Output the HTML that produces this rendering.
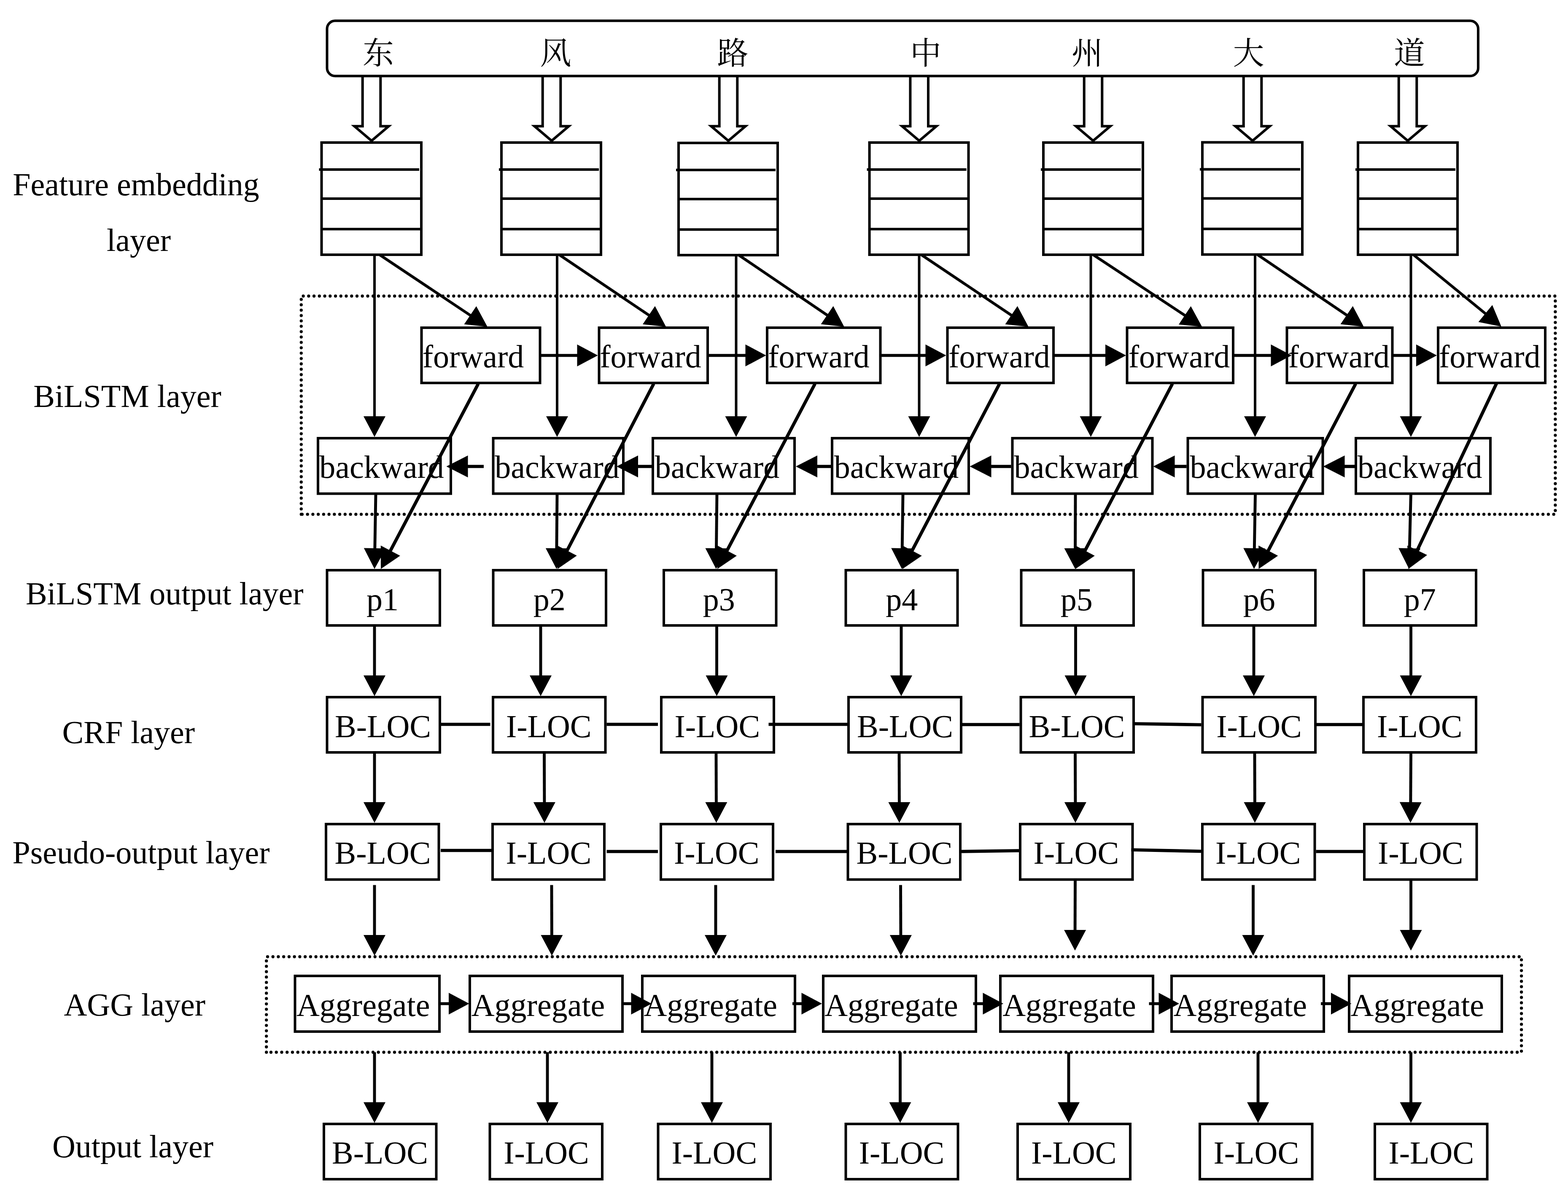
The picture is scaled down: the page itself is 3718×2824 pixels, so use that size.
<!DOCTYPE html>
<html><head><meta charset="utf-8"><title>BiLSTM-CRF-AGG model diagram</title>
<style>
html,body{margin:0;padding:0;background:#fff;}
body{width:3718px;height:2824px;overflow:hidden;font-family:"Liberation Serif",serif;}
svg{display:block;}
svg .h{fill:#000;stroke:none;}
svg text{white-space:pre;}
</style></head><body>
<svg width="3718" height="2824" viewBox="0 0 3718 2824">
<rect width="100%" height="100%" fill="#fff"/>
<g fill="none" stroke="#000" stroke-width="6.0" stroke-linecap="butt" stroke-linejoin="miter">
<rect x="775.5" y="49.2" width="2729.5" height="131.10000000000002" rx="19" ry="19"/>
<path d="M859.7 181L859.7 299.2L840.3 299.2L881 333.8L921.7 299.2L902.3 299.2L902.3 181"/>
<path d="M1286.7 181L1286.7 299.2L1267.3 299.2L1308 333.8L1348.7 299.2L1329.3 299.2L1329.3 181"/>
<path d="M1705.7 181L1705.7 299.2L1686.3 299.2L1727 333.8L1767.7 299.2L1748.3 299.2L1748.3 181"/>
<path d="M2158.3999999999996 181L2158.3999999999996 299.2L2139.0 299.2L2179.7 333.8L2220.3999999999996 299.2L2201.0 299.2L2201.0 181"/>
<path d="M2570.7 181L2570.7 299.2L2551.3 299.2L2592 333.8L2632.7 299.2L2613.3 299.2L2613.3 181"/>
<path d="M2948.7 181L2948.7 299.2L2929.3 299.2L2970 333.8L3010.7 299.2L2991.3 299.2L2991.3 181"/>
<path d="M3316.7 181L3316.7 299.2L3297.3 299.2L3338 333.8L3378.7 299.2L3359.3 299.2L3359.3 181"/>
<rect x="762.5" y="338" width="236.5" height="266" />
<path d="M756.5 402L994 402"/>
<path d="M762.5 471L999 471"/>
<path d="M762.5 543.3L999 543.3"/>
<rect x="1189" y="338" width="236" height="266" />
<path d="M1183 402L1420 402"/>
<path d="M1189 471L1425 471"/>
<path d="M1189 543.3L1425 543.3"/>
<rect x="1609" y="338.9" width="235" height="266.0" />
<path d="M1603 402.9L1839 402.9"/>
<path d="M1609 471.9L1844 471.9"/>
<path d="M1609 544.1999999999999L1844 544.1999999999999"/>
<rect x="2061.6" y="338" width="234.9000000000001" height="266" />
<path d="M2055.6 402L2291.5 402"/>
<path d="M2061.6 471L2296.5 471"/>
<path d="M2061.6 543.3L2296.5 543.3"/>
<rect x="2474" y="338" width="236" height="266" />
<path d="M2468 402L2705 402"/>
<path d="M2474 471L2710 471"/>
<path d="M2474 543.3L2710 543.3"/>
<rect x="2851" y="337.5" width="237" height="266.0" />
<path d="M2845 401.5L3083 401.5"/>
<path d="M2851 470.5L3088 470.5"/>
<path d="M2851 542.8L3088 542.8"/>
<rect x="3220" y="338" width="236" height="266" />
<path d="M3214 402L3451 402"/>
<path d="M3220 471L3456 471"/>
<path d="M3220 543.3L3456 543.3"/>
<path stroke-width="6.0" d="M888.0 604.0L888.0 989.0"/>
<path class="h" d="M888.0 1036.0L862.0 987.0L914.0 987.0Z"/>
<path stroke-width="6.0" d="M1321.0 604.0L1321.0 989.0"/>
<path class="h" d="M1321.0 1036.0L1295.0 987.0L1347.0 987.0Z"/>
<path stroke-width="6.0" d="M1745.5 604.0L1745.5 989.0"/>
<path class="h" d="M1745.5 1036.0L1719.5 987.0L1771.5 987.0Z"/>
<path stroke-width="6.0" d="M2179.5 604.0L2179.5 989.0"/>
<path class="h" d="M2179.5 1036.0L2153.5 987.0L2205.5 987.0Z"/>
<path stroke-width="6.0" d="M2586.5 604.0L2586.5 989.0"/>
<path class="h" d="M2586.5 1036.0L2560.5 987.0L2612.5 987.0Z"/>
<path stroke-width="6.0" d="M2976.0 604.0L2976.0 989.0"/>
<path class="h" d="M2976.0 1036.0L2950.0 987.0L3002.0 987.0Z"/>
<path stroke-width="6.0" d="M3345.5 604.0L3345.5 989.0"/>
<path class="h" d="M3345.5 1036.0L3319.5 987.0L3371.5 987.0Z"/>
<path stroke-width="6.5" d="M900.0 604.0L1116.6 748.6"/>
<path class="h" d="M1155.7 774.7L1100.5 769.1L1129.4 725.9Z"/>
<path stroke-width="6.5" d="M1326.0 604.0L1540.2 748.4"/>
<path class="h" d="M1579.2 774.7L1524.0 768.9L1553.1 725.8Z"/>
<path stroke-width="6.5" d="M1750.5 604.0L1962.8 748.3"/>
<path class="h" d="M2001.7 774.7L1946.6 768.7L1975.8 725.7Z"/>
<path stroke-width="6.5" d="M2184.5 604.0L2399.7 748.5"/>
<path class="h" d="M2438.7 774.7L2383.5 769.0L2412.5 725.8Z"/>
<path stroke-width="6.5" d="M2592.0 604.0L2811.0 748.8"/>
<path class="h" d="M2850.2 774.7L2795.0 769.4L2823.7 726.0Z"/>
<path stroke-width="6.5" d="M2982.0 604.0L3194.8 748.3"/>
<path class="h" d="M3233.7 774.7L3178.6 768.7L3207.7 725.7Z"/>
<path stroke-width="6.5" d="M3351.5 604.0L3523.6 744.7"/>
<path class="h" d="M3560.0 774.4L3505.6 763.5L3538.5 723.3Z"/>
<rect x="999.5" y="777" width="281.0" height="131" />
<rect x="1420.5" y="777" width="257.5" height="131" />
<rect x="1819" y="777" width="268.5" height="131" />
<rect x="2246.5" y="777" width="251.5" height="131" />
<rect x="2672.5" y="777" width="251.5" height="131" />
<rect x="3051.5" y="777" width="250.0" height="131" />
<rect x="3410" y="777" width="254" height="131" />
<path stroke-width="6.9" d="M1282.0 842.7L1370.5 842.7"/>
<path class="h" d="M1417.5 842.7L1368.5 868.7L1368.5 816.7Z"/>
<path stroke-width="6.9" d="M1679.5 842.7L1769.5 842.7"/>
<path class="h" d="M1816.5 842.7L1767.5 868.7L1767.5 816.7Z"/>
<path stroke-width="6.9" d="M2088.5 842.7L2196.5 842.7"/>
<path class="h" d="M2243.5 842.7L2194.5 868.7L2194.5 816.7Z"/>
<path stroke-width="6.9" d="M2499.5 842.7L2623.0 842.7"/>
<path class="h" d="M2670.0 842.7L2621.0 868.7L2621.0 816.7Z"/>
<path stroke-width="6.9" d="M2925.5 842.7L3015.5 842.7"/>
<path class="h" d="M3062.5 842.7L3013.5 868.7L3013.5 816.7Z"/>
<path stroke-width="6.9" d="M3303.0 842.7L3360.0 842.7"/>
<path class="h" d="M3407.0 842.7L3358.0 868.7L3358.0 816.7Z"/>
<rect x="754" y="1039" width="315" height="131.5" />
<rect x="1169.5" y="1039" width="308.5" height="131.5" />
<rect x="1548" y="1039" width="336" height="131.5" />
<rect x="1973" y="1039" width="324" height="131.5" />
<rect x="2400.5" y="1039" width="332.0" height="131.5" />
<rect x="2816.5" y="1039" width="320.0" height="131.5" />
<rect x="3215" y="1039" width="319" height="131.5" />
<path stroke-width="7.7" d="M1147.0 1106.0L1107.5 1106.0"/>
<path class="h" d="M1058.5 1106.0L1109.5 1080.0L1109.5 1132.0Z"/>
<path stroke-width="7.7" d="M1545.0 1106.0L1511.0 1106.0"/>
<path class="h" d="M1462.0 1106.0L1513.0 1080.0L1513.0 1132.0Z"/>
<path stroke-width="7.7" d="M1970.0 1106.0L1936.0 1106.0"/>
<path class="h" d="M1887.0 1106.0L1938.0 1080.0L1938.0 1132.0Z"/>
<path stroke-width="7.7" d="M2397.5 1106.0L2348.5 1106.0"/>
<path class="h" d="M2299.5 1106.0L2350.5 1080.0L2350.5 1132.0Z"/>
<path stroke-width="7.7" d="M2813.5 1106.0L2783.5 1106.0"/>
<path class="h" d="M2734.5 1106.0L2785.5 1080.0L2785.5 1132.0Z"/>
<path stroke-width="7.7" d="M3212.0 1106.0L3186.5 1106.0"/>
<path class="h" d="M3137.5 1106.0L3188.5 1080.0L3188.5 1132.0Z"/>
<path stroke-width="6.9" d="M891.0 1172.0L888.8 1302.0"/>
<path class="h" d="M888.0 1349.0L862.8 1299.6L914.8 1300.4Z"/>
<path stroke-width="6.9" d="M1321.0 1172.0L1319.9 1302.0"/>
<path class="h" d="M1319.5 1349.0L1293.9 1299.8L1345.9 1300.2Z"/>
<path stroke-width="6.9" d="M1700.0 1168.0L1698.5 1302.0"/>
<path class="h" d="M1698.0 1349.0L1672.5 1299.7L1724.5 1300.3Z"/>
<path stroke-width="6.9" d="M2141.0 1172.0L2139.2 1302.0"/>
<path class="h" d="M2138.5 1349.0L2113.2 1299.6L2165.2 1300.4Z"/>
<path stroke-width="6.9" d="M2550.0 1172.0L2549.6 1302.0"/>
<path class="h" d="M2549.5 1349.0L2523.6 1299.9L2575.6 1300.1Z"/>
<path stroke-width="6.9" d="M2976.5 1172.0L2974.3 1302.0"/>
<path class="h" d="M2973.5 1349.0L2948.3 1299.6L3000.3 1300.4Z"/>
<path stroke-width="6.9" d="M3345.5 1168.0L3342.2 1302.0"/>
<path class="h" d="M3341.0 1349.0L3316.2 1299.4L3368.2 1300.7Z"/>
<path stroke-width="7.7" d="M1134.0 910.0L924.9 1307.4"/>
<path class="h" d="M903.0 1349.0L902.8 1293.5L948.8 1317.7Z"/>
<path stroke-width="7.7" d="M1550.0 910.0L1343.7 1307.3"/>
<path class="h" d="M1322.0 1349.0L1321.5 1293.5L1367.7 1317.5Z"/>
<path stroke-width="7.7" d="M1932.5 910.0L1722.9 1307.4"/>
<path class="h" d="M1701.0 1349.0L1700.9 1293.5L1746.9 1317.8Z"/>
<path stroke-width="7.7" d="M2370.0 910.0L2161.8 1307.4"/>
<path class="h" d="M2140.0 1349.0L2139.7 1293.5L2185.8 1317.7Z"/>
<path stroke-width="7.7" d="M2780.0 910.0L2571.8 1307.4"/>
<path class="h" d="M2550.0 1349.0L2549.7 1293.5L2595.8 1317.7Z"/>
<path stroke-width="7.7" d="M3214.5 910.0L3006.3 1307.4"/>
<path class="h" d="M2984.5 1349.0L2984.2 1293.5L3030.3 1317.7Z"/>
<path stroke-width="7.7" d="M3549.5 907.0L3359.7 1306.5"/>
<path class="h" d="M3339.5 1349.0L3337.0 1293.6L3384.0 1315.9Z"/>
<rect x="775.5" y="1352" width="267.5" height="131" />
<rect x="1169.5" y="1352" width="267.5" height="131" />
<rect x="1574" y="1352" width="266.5" height="131" />
<rect x="2005.5" y="1352" width="265.0" height="131" />
<rect x="2421.5" y="1352" width="266.5" height="131" />
<rect x="2852.5" y="1352" width="266.5" height="131" />
<rect x="3234" y="1352" width="266" height="131" />
<path stroke-width="6.9" d="M888.0 1486.0L888.0 1603.5"/>
<path class="h" d="M888.0 1650.5L862.0 1601.5L914.0 1601.5Z"/>
<path stroke-width="6.9" d="M1282.0 1486.0L1282.0 1603.5"/>
<path class="h" d="M1282.0 1650.5L1256.0 1601.5L1308.0 1601.5Z"/>
<path stroke-width="6.9" d="M1699.5 1486.0L1699.5 1603.5"/>
<path class="h" d="M1699.5 1650.5L1673.5 1601.5L1725.5 1601.5Z"/>
<path stroke-width="6.9" d="M2137.0 1486.0L2137.0 1603.5"/>
<path class="h" d="M2137.0 1650.5L2111.0 1601.5L2163.0 1601.5Z"/>
<path stroke-width="6.9" d="M2550.5 1486.0L2550.5 1603.5"/>
<path class="h" d="M2550.5 1650.5L2524.5 1601.5L2576.5 1601.5Z"/>
<path stroke-width="6.9" d="M2973.0 1486.0L2973.0 1603.5"/>
<path class="h" d="M2973.0 1650.5L2947.0 1601.5L2999.0 1601.5Z"/>
<path stroke-width="6.9" d="M3345.5 1486.0L3345.5 1603.5"/>
<path class="h" d="M3345.5 1650.5L3319.5 1601.5L3371.5 1601.5Z"/>
<rect x="775.5" y="1653" width="267.5" height="131" />
<rect x="1169" y="1653" width="266.5" height="131" />
<rect x="1568" y="1653" width="267" height="131" />
<rect x="2012" y="1653" width="267" height="131" />
<rect x="2420.5" y="1653" width="267.5" height="131" />
<rect x="2851.5" y="1653" width="267.5" height="131" />
<rect x="3233" y="1653" width="267" height="131" />
<path stroke-width="7.6" d="M1045 1717.5L1162.5 1717.5"/>
<path stroke-width="7.6" d="M1438.5 1717.5L1560 1717.5"/>
<path stroke-width="7.6" d="M1822.5 1717.5L2010 1717.5"/>
<path stroke-width="7.6" d="M2282 1718L2417.5 1718"/>
<path stroke-width="7.6" d="M2690.5 1716L2848.5 1718.5"/>
<path stroke-width="7.6" d="M3122 1718L3230 1718"/>
<path stroke-width="6.9" d="M888.0 1787.0L888.0 1904.0"/>
<path class="h" d="M888.0 1951.0L862.0 1902.0L914.0 1902.0Z"/>
<path stroke-width="6.9" d="M1290.5 1787.0L1290.9 1904.0"/>
<path class="h" d="M1291.0 1951.0L1264.9 1902.1L1316.9 1901.9Z"/>
<path stroke-width="6.9" d="M1698.0 1787.0L1698.4 1904.0"/>
<path class="h" d="M1698.5 1951.0L1672.4 1902.1L1724.4 1901.9Z"/>
<path stroke-width="6.9" d="M2132.0 1787.0L2132.4 1904.0"/>
<path class="h" d="M2132.5 1951.0L2106.4 1902.1L2158.4 1901.9Z"/>
<path stroke-width="6.9" d="M2549.5 1787.0L2549.9 1904.0"/>
<path class="h" d="M2550.0 1951.0L2523.9 1902.1L2575.9 1901.9Z"/>
<path stroke-width="6.9" d="M2975.0 1787.0L2975.4 1904.0"/>
<path class="h" d="M2975.5 1951.0L2949.4 1902.1L3001.4 1901.9Z"/>
<path stroke-width="6.9" d="M3345.5 1787.0L3344.8 1904.0"/>
<path class="h" d="M3344.5 1951.0L3318.8 1901.8L3370.8 1902.2Z"/>
<rect x="773" y="1954" width="267.5" height="131.5" />
<rect x="1168" y="1954" width="265" height="131.5" />
<rect x="1567" y="1954" width="266" height="131.5" />
<rect x="2010.5" y="1954" width="266.5" height="131.5" />
<rect x="2419" y="1954" width="266.5" height="131.5" />
<rect x="2851" y="1954" width="266.5" height="131.5" />
<rect x="3235" y="1954" width="266.5" height="131.5" />
<path stroke-width="7.6" d="M1045 2016.5L1165 2016.5"/>
<path stroke-width="7.6" d="M1438.5 2019L1560 2019"/>
<path stroke-width="7.6" d="M1839 2019L2008.5 2019"/>
<path stroke-width="7.6" d="M2280 2019L2416 2017"/>
<path stroke-width="7.6" d="M2682.5 2015L2848 2018.5"/>
<path stroke-width="7.6" d="M3120.5 2019L3232 2019"/>
<path stroke-width="6.9" d="M888.0 2098.5L888.0 2219.0"/>
<path class="h" d="M888.0 2266.0L862.0 2217.0L914.0 2217.0Z"/>
<path stroke-width="6.9" d="M1308.0 2098.5L1308.4 2219.0"/>
<path class="h" d="M1308.5 2266.0L1282.4 2217.1L1334.4 2216.9Z"/>
<path stroke-width="6.9" d="M1697.0 2098.5L1697.0 2219.0"/>
<path class="h" d="M1697.0 2266.0L1671.0 2217.0L1723.0 2217.0Z"/>
<path stroke-width="6.9" d="M2135.5 2098.5L2135.9 2219.0"/>
<path class="h" d="M2136.0 2266.0L2109.9 2217.1L2161.9 2216.9Z"/>
<path stroke-width="6.9" d="M2549.5 2088.0L2549.1 2207.0"/>
<path class="h" d="M2549.0 2254.0L2523.1 2204.9L2575.1 2205.1Z"/>
<path stroke-width="6.9" d="M2971.5 2098.5L2971.5 2219.0"/>
<path class="h" d="M2971.5 2266.0L2945.5 2217.0L2997.5 2217.0Z"/>
<path stroke-width="6.9" d="M3345.5 2088.0L3345.5 2207.0"/>
<path class="h" d="M3345.5 2254.0L3319.5 2205.0L3371.5 2205.0Z"/>
<rect x="699.5" y="2314" width="342.5" height="132" />
<rect x="1114" y="2314" width="362" height="132" />
<rect x="1523" y="2314" width="362" height="132" />
<rect x="1952" y="2314" width="362" height="132" />
<rect x="2372" y="2314" width="362" height="132" />
<rect x="2778" y="2314" width="361" height="132" />
<rect x="3199" y="2314" width="362" height="132" />
<path stroke-width="6.9" d="M1045.0 2379.8L1066.0 2379.8"/>
<path class="h" d="M1112.5 2379.8L1064.0 2405.6L1064.0 2354.0Z"/>
<path stroke-width="6.9" d="M1479.0 2379.8L1498.5 2379.8"/>
<path class="h" d="M1545.0 2379.8L1496.5 2405.6L1496.5 2354.0Z"/>
<path stroke-width="6.9" d="M1879.0 2379.8L1902.5 2379.8"/>
<path class="h" d="M1949.0 2379.8L1900.5 2405.6L1900.5 2354.0Z"/>
<path stroke-width="6.9" d="M2307.5 2379.8L2332.5 2379.8"/>
<path class="h" d="M2379.0 2379.8L2330.5 2405.6L2330.5 2354.0Z"/>
<path stroke-width="6.9" d="M2724.5 2379.8L2749.5 2379.8"/>
<path class="h" d="M2796.0 2379.8L2747.5 2405.6L2747.5 2354.0Z"/>
<path stroke-width="6.9" d="M3132.0 2379.8L3158.0 2379.8"/>
<path class="h" d="M3204.5 2379.8L3156.0 2405.6L3156.0 2354.0Z"/>
<path stroke-width="6.9" d="M888.0 2495.0L888.0 2615.5"/>
<path class="h" d="M888.0 2662.5L862.0 2613.5L914.0 2613.5Z"/>
<path stroke-width="6.9" d="M1298.0 2495.0L1298.0 2615.5"/>
<path class="h" d="M1298.0 2662.5L1272.0 2613.5L1324.0 2613.5Z"/>
<path stroke-width="6.9" d="M1688.0 2495.0L1688.0 2615.5"/>
<path class="h" d="M1688.0 2662.5L1662.0 2613.5L1714.0 2613.5Z"/>
<path stroke-width="6.9" d="M2134.5 2495.0L2134.5 2615.5"/>
<path class="h" d="M2134.5 2662.5L2108.5 2613.5L2160.5 2613.5Z"/>
<path stroke-width="6.9" d="M2534.0 2495.0L2534.0 2615.5"/>
<path class="h" d="M2534.0 2662.5L2508.0 2613.5L2560.0 2613.5Z"/>
<path stroke-width="6.9" d="M2983.0 2495.0L2983.0 2615.5"/>
<path class="h" d="M2983.0 2662.5L2957.0 2613.5L3009.0 2613.5Z"/>
<path stroke-width="6.9" d="M3345.5 2495.0L3345.5 2615.5"/>
<path class="h" d="M3345.5 2662.5L3319.5 2613.5L3371.5 2613.5Z"/>
<rect x="768" y="2665" width="266.5" height="131" />
<rect x="1161.5" y="2665" width="266.5" height="131" />
<rect x="1560.5" y="2665" width="266.5" height="131" />
<rect x="2005.5" y="2665" width="266.0" height="131" />
<rect x="2413" y="2665" width="267" height="131" />
<rect x="2845" y="2665" width="266.5" height="131" />
<rect x="3260" y="2665" width="266.5" height="131" />
</g>
<g fill="none" stroke="#000" stroke-width="7.3" stroke-linecap="round" stroke-dasharray="0 12.737">
<path d="M714.3 1219.4V702H3687.9V1219.4H714.3"/>
<path d="M631.7 2495V2268.5H3607.6V2495H631.7"/>
</g>
<g font-family="'Liberation Serif', 'Noto Serif CJK SC', serif" font-size="74px" fill="#000" text-anchor="middle">
<text x="897.0" y="151.6">东</text>
<text x="1317.6" y="151.6">风</text>
<text x="1737.6" y="151.6">路</text>
<text x="2195.0" y="151.6">中</text>
<text x="2578.0" y="151.6">州</text>
<text x="2960.5" y="151.6">大</text>
<text x="3342.0" y="151.6">道</text>
</g>
<g font-family="'Liberation Serif', serif" font-size="76px" fill="#000" text-anchor="middle">
<text x="322.5" y="463.3">Feature embedding</text>
<text x="329.0" y="595.3">layer</text>
<text x="302.0" y="965.3">BiLSTM layer</text>
<text x="390.2" y="1432.8">BiLSTM output layer</text>
<text x="304.8" y="1761.8">CRF layer</text>
<text x="334.5" y="2047.3">Pseudo-output layer</text>
<text x="319.2" y="2407.8">AGG layer</text>
<text x="315.0" y="2743.8">Output layer</text>
<text x="1122.0" y="871.2">forward</text>
<text x="1542.5" y="871.2">forward</text>
<text x="1941.5" y="871.2">forward</text>
<text x="2369.5" y="871.2">forward</text>
<text x="2796.0" y="871.2">forward</text>
<text x="3174.8" y="871.2">forward</text>
<text x="3532.2" y="871.2">forward</text>
<text x="905.0" y="1133">backward</text>
<text x="1321.0" y="1133">backward</text>
<text x="1700.5" y="1133">backward</text>
<text x="2125.5" y="1133">backward</text>
<text x="2552.2" y="1133">backward</text>
<text x="2969.2" y="1133">backward</text>
<text x="3366.8" y="1133">backward</text>
<text x="907.0" y="1446.5">p1</text>
<text x="1302.8" y="1446.5">p2</text>
<text x="1704.8" y="1446.5">p3</text>
<text x="2138.2" y="1446.5">p4</text>
<text x="2552.8" y="1446.5">p5</text>
<text x="2985.8" y="1446.5">p6</text>
<text x="3366.8" y="1446.5">p7</text>
<text x="908.0" y="1747.9">B-LOC</text>
<text x="1301.2" y="1747.9">I-LOC</text>
<text x="1700.8" y="1747.9">I-LOC</text>
<text x="2146.0" y="1747.9">B-LOC</text>
<text x="2553.5" y="1747.9">B-LOC</text>
<text x="2985.5" y="1747.9">I-LOC</text>
<text x="3366.2" y="1747.9">I-LOC</text>
<text x="907.5" y="2047.9">B-LOC</text>
<text x="1300.8" y="2047.9">I-LOC</text>
<text x="1699.2" y="2047.9">I-LOC</text>
<text x="2144.5" y="2047.9">B-LOC</text>
<text x="2551.8" y="2047.9">I-LOC</text>
<text x="2983.2" y="2047.9">I-LOC</text>
<text x="3368.2" y="2047.9">I-LOC</text>
<text x="861.2" y="2408.5">Aggregate</text>
<text x="1276.0" y="2408.5">Aggregate</text>
<text x="1684.8" y="2408.5">Aggregate</text>
<text x="2113.5" y="2408.5">Aggregate</text>
<text x="2535.5" y="2408.5">Aggregate</text>
<text x="2940.8" y="2408.5">Aggregate</text>
<text x="3360.8" y="2408.5">Aggregate</text>
<text x="901.0" y="2758.9">B-LOC</text>
<text x="1295.5" y="2758.9">I-LOC</text>
<text x="1693.8" y="2758.9">I-LOC</text>
<text x="2138.0" y="2758.9">I-LOC</text>
<text x="2546.2" y="2758.9">I-LOC</text>
<text x="2978.8" y="2758.9">I-LOC</text>
<text x="3393.8" y="2758.9">I-LOC</text>
</g>
</svg>
</body></html>
